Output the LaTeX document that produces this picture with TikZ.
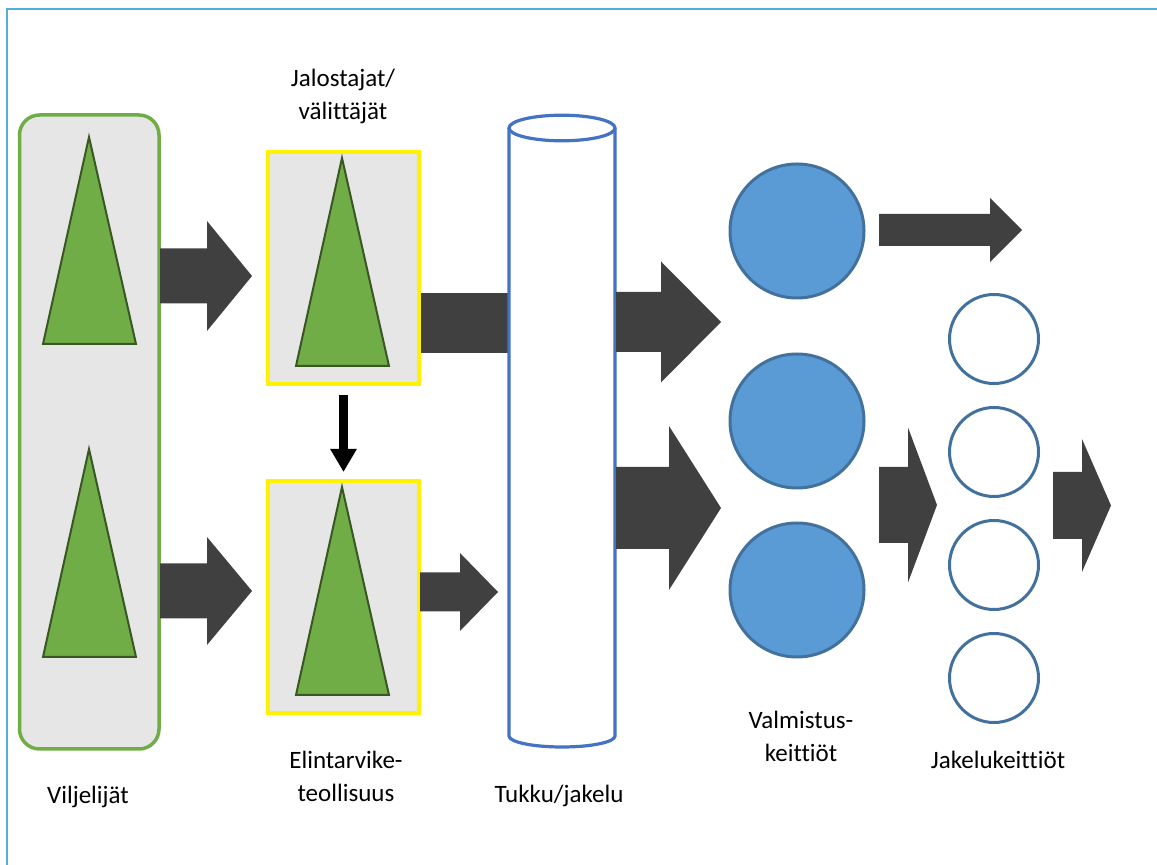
\documentclass[tikz,border=0pt]{standalone}
\usepackage{fontspec}
\setmainfont{Carlito}[Ligatures={NoCommon}]
\usetikzlibrary{arrows.meta, positioning}
\definecolor{framecyan}{HTML}{4FAFDD}
\definecolor{boxgray}{HTML}{E7E6E6}
\definecolor{leafgreen}{HTML}{70AD47}
\definecolor{darkgreen}{HTML}{385723}
\definecolor{cylblue}{HTML}{4472C4}
\definecolor{kitchenblue}{HTML}{5B9BD5}
\definecolor{kitchenedge}{HTML}{41719C}
\definecolor{arrowgray}{HTML}{404040}
% block arrow: x start, x head, y middle, shaft half, head half, x tip
\newcommand{\blockarrow}[6]{%
  \fill[arrowgray] (#1,#3-#4) -- (#2,#3-#4) -- (#2,#3-#5) -- (#6,#3)
    -- (#2,#3+#5) -- (#2,#3+#4) -- (#1,#3+#4) -- cycle;}

\begin{document}
\begin{tikzpicture}[x=0.5pt, y=-0.5pt,
  farm/.style={rectangle, draw=leafgreen, line width=1.75pt, fill=boxgray,
               rounded corners=10pt, minimum width=69.75pt, minimum height=317pt,
               inner sep=0pt},
  proc/.style={rectangle, draw=yellow, line width=2pt, fill=boxgray,
               minimum width=75.5pt, minimum height=116pt, inner sep=0pt},
  tree/.style={fill=leafgreen, draw=darkgreen, line width=1pt, line join=miter},
  cyl/.style={draw=cylblue, line width=1.6pt, fill=white},
  bigkitchen/.style={circle, draw=kitchenedge, fill=kitchenblue, line width=1.5pt,
               minimum size=67pt, inner sep=0pt},
  smallkitchen/.style={circle, draw=kitchenedge, fill=white, line width=1.5pt,
               minimum size=44.5pt, inner sep=0pt},
  downarr/.style={-{Triangle[width=12.5pt, length=11.5pt]}, line width=4.5pt},
  lbl/.style={font=\fontsize{12.5}{16.5}\selectfont, align=center, inner sep=0pt},
]
\useasboundingbox (0,0) rectangle (1157,865);

%% --- frame ---
\draw[framecyan, line width=1pt] (7,865) -- (7,9) -- (1157,9);

%% --- Viljelijat ---
\node[farm] (vil) at (89.25,432) {};
\draw[tree] (89,137) -- (43,344) -- (136,344) -- cycle;
\draw[tree] (89,449) -- (43,657) -- (136,657) -- cycle;
\node[lbl] (lvil) at (88,797) {Viljelijät};

%% --- Jalostajat / Elintarviketeollisuus ---
\node[proc] (jal) at (343.5,268) {};
\node[proc] (eli) at (343.5,597) {};
\draw[tree] (342,158) -- (296,366) -- (389,366) -- cycle;
\draw[tree] (342,487) -- (296,695) -- (389,695) -- cycle;
\node[lbl] (ljal) at (343,96) {Jalostajat/\\välittäjät};
\node[lbl] (leli) at (346,776) {Elintarvike-\\teollisuus};
\draw[downarr, shorten <=4.5pt, shorten >=3.5pt] (jal.south) -- (eli.north);

%% --- arrows into the chain ---
\blockarrow{160}{207}{276}{27.5}{55}{252}
\blockarrow{160}{207}{591}{27.5}{54}{252}
\fill[arrowgray] (jal.east |- 0,293) rectangle (508,353);
\blockarrow{420}{460}{592}{19.5}{39}{498}

%% --- Tukku/jakelu ---
\draw[cyl] (509,128) -- (509,736)
  arc[start angle=180, end angle=360, x radius=26.5pt, y radius=5.5pt] -- (615,128);
\draw[cyl] (562,128) ellipse [x radius=26.5pt, y radius=6.4pt];
\coordinate (tuk) at (562,430);
\node[lbl] (ltuk) at (559,796) {Tukku/jakelu};

\blockarrow{616}{661}{322}{30}{60.5}{721}
\blockarrow{616}{669}{508}{41}{82}{721}

%% --- Valmistuskeittiot ---
\node[bigkitchen] (v1) at (797,231) {};
\node[bigkitchen] (v2) at (797,421) {};
\node[bigkitchen] (v3) at (797,590) {};
\node[lbl] (lval) at (801,736) {Valmistus-\\keittiöt};

\blockarrow{879}{990}{230}{16}{32}{1022}
\blockarrow{879}{908}{505}{38}{77.5}{937}

%% --- Jakelukeittiot ---
\node[smallkitchen] (j1) at (994,339) {};
\node[smallkitchen] (j2) at (994,452) {};
\node[smallkitchen] (j3) at (994,565) {};
\node[smallkitchen] (j4) at (994,678) {};
\node[lbl] (ljak) at (998,760) {Jakelukeittiöt};

\blockarrow{1053}{1082}{505.5}{33.5}{66.5}{1111}
\end{tikzpicture}
\end{document}
